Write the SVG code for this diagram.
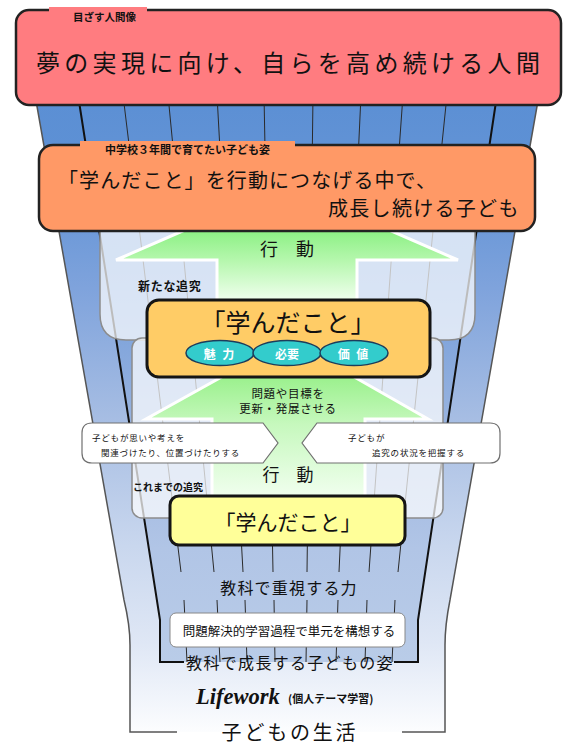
<svg xmlns="http://www.w3.org/2000/svg" width="571" height="745" viewBox="0 0 571 745">
<defs>
<linearGradient id="gOuter" gradientUnits="userSpaceOnUse" x1="0" y1="95" x2="0" y2="740">
<stop offset="0" stop-color="#5b8fd4"/><stop offset="0.12" stop-color="#5e91d5"/><stop offset="0.3" stop-color="#7fa3dc"/><stop offset="0.5" stop-color="#a6bde3"/><stop offset="0.7" stop-color="#c9d7ee"/><stop offset="0.85" stop-color="#dfe7f5"/><stop offset="0.95" stop-color="#f4f7fc"/><stop offset="1" stop-color="#ffffff"/>
</linearGradient>
<linearGradient id="gInner" gradientUnits="userSpaceOnUse" x1="0" y1="95" x2="0" y2="662">
<stop offset="0" stop-color="#5b8fd4"/><stop offset="0.3" stop-color="#6f9ad8"/><stop offset="0.6" stop-color="#9bb5e0"/><stop offset="0.8" stop-color="#b1c5e6"/><stop offset="1" stop-color="#b9cce8"/>
</linearGradient>
<linearGradient id="gArrow1" gradientUnits="userSpaceOnUse" x1="0" y1="226" x2="0" y2="302">
<stop offset="0" stop-color="#86ef7e"/><stop offset="0.45" stop-color="#b5f7ad"/><stop offset="1" stop-color="#f2fff0"/>
</linearGradient>
<linearGradient id="gArrow2" gradientUnits="userSpaceOnUse" x1="0" y1="374" x2="0" y2="499">
<stop offset="0" stop-color="#98f08a"/><stop offset="0.4" stop-color="#c6f8bd"/><stop offset="1" stop-color="#f2fff0"/>
</linearGradient>
<style>
.t{font-family:"Noto Sans CJK JP","Noto Sans CJK SC",sans-serif;fill:#111;dominant-baseline:central}
.c{text-anchor:middle}
.b{font-weight:700}
.w{fill:#ffffff}
.rib{stroke:#2a2a2a;stroke-width:1;fill:none}
.panel{fill:#ffffff;fill-opacity:0.72;stroke:#8c8c8c;stroke-width:1.5}
.arrow{stroke:#ffffff;stroke-width:3;stroke-linejoin:miter}
.bubble{fill:#ffffff;stroke:#707070;stroke-width:1.2}
.ell{fill:#33cccc;stroke:#1c3d5c;stroke-width:1.5}
.box{stroke:#151515;stroke-width:3}
</style>
</defs>
<rect width="571" height="745" fill="#ffffff"/>

<g id="funnel">
<path d="M35,95 L539,95 L450,600 Q445,625 445,645 L445,732 L130,732 L130,645 Q130,625 124,600 Z" fill="url(#gOuter)"/>
<path d="M78,95 L497,95 L418,620 L418,662 L160,662 L160,620 Z" fill="url(#gInner)"/>
<g class="rib">
<line x1="123" y1="95" x2="181" y2="572"/><line x1="168" y1="95" x2="214" y2="572"/><line x1="217" y1="95" x2="243" y2="572"/><line x1="264" y1="95" x2="273" y2="572"/><line x1="313" y1="95" x2="307" y2="572"/><line x1="361" y1="95" x2="339" y2="572"/><line x1="403" y1="95" x2="369" y2="572"/><line x1="447" y1="95" x2="398" y2="572"/>
<line x1="184" y1="600" x2="187" y2="662"/><line x1="217" y1="600" x2="220" y2="662"/><line x1="245" y1="600" x2="247" y2="662"/><line x1="274" y1="600" x2="275" y2="662"/><line x1="307" y1="600" x2="306" y2="662"/><line x1="338" y1="600" x2="336" y2="662"/><line x1="367" y1="600" x2="365" y2="662"/><line x1="395" y1="600" x2="392" y2="662"/>
</g>
<path d="M78,95 L160,620 L160,662 L184,662 M497,95 L418,620 L418,662 L394,662" fill="none" stroke="#111" stroke-width="2"/>
<path d="M35,95 L124,600 Q130,625 130,645 L130,732 L177,732 M539,95 L450,600 Q445,625 445,645 L445,732 L402,732" fill="none" stroke="#555" stroke-width="1.5"/>
</g>

<g id="panel-new">
<path class="panel" d="M100,225 L475,225 L475,314 Q475,340 449,340 L126,340 Q100,340 100,314 Z"/>
</g>
<g id="panel-past">
<rect class="panel" x="132" y="338" width="311" height="180" rx="10"/>
</g>

<g id="arrows">
<polygon class="arrow" fill="url(#gArrow1)" points="194,226 380,226 458,260 357,260 357,302 217,302 217,260 116,260"/>
<polygon class="arrow" fill="url(#gArrow2)" points="227,374 349,374 428,419 365,419 365,499 212,499 212,419 146,419"/>
</g>

<g id="goal">
<rect x="16" y="10" width="545" height="95" rx="13" fill="#ff7c80" stroke="#222" stroke-width="2.5"/>
<rect x="49" y="7" width="98" height="6" fill="#ff7c80"/>
<text class="t b" x="73" y="16" font-size="10.5">目ざす人間像</text>
<text class="t" x="36" y="61" font-size="24" letter-spacing="4.3">夢の実現に向け、自らを高め続ける人間</text>
</g>

<g id="aim">
<rect x="39" y="145" width="496" height="86" rx="14" fill="#ff9966" stroke="#222" stroke-width="2.5"/>
<rect x="80" y="141" width="215" height="7" fill="#ff9966"/>
<text class="t b" x="105" y="149" font-size="11">中学校３年間で育てたい子ども姿</text>
<text class="t" x="58" y="179" font-size="20" letter-spacing="1.1">「学んだこと」を行動につなげる中で、</text>
<text class="t" x="328" y="207" font-size="20" letter-spacing="1.3">成長し続ける子ども</text>
</g>

<g id="labels-upper">
<text class="t c" x="287" y="248" font-size="18">行　動</text>
<text class="t b" x="138" y="285" font-size="12" letter-spacing="0.7">新たな追究</text>
</g>

<g id="learned-main">
<rect class="box" x="147" y="300" width="283" height="77" rx="12" fill="#ffcc66"/>
<text class="t c" x="288" y="321" font-size="25">「学んだこと」</text>
<ellipse class="ell" cx="220" cy="353" rx="34" ry="12.5"/>
<ellipse class="ell" cx="287" cy="353" rx="34" ry="12.5"/>
<ellipse class="ell" cx="354" cy="353" rx="34" ry="12.5"/>
<text class="t c b w" x="220" y="353" font-size="12" letter-spacing="2">魅 力</text>
<text class="t c b w" x="287" y="353" font-size="12">必要</text>
<text class="t c b w" x="354" y="353" font-size="12" letter-spacing="2">価 値</text>
</g>

<g id="update">
<text class="t c" x="288" y="393" font-size="11.5" letter-spacing="0.7">問題や目標を</text>
<text class="t c" x="288" y="408" font-size="11.5" letter-spacing="0.7">更新・発展させる</text>
</g>

<g id="bubble-left">
<path class="bubble" d="M92,423 L263,423 L278,443 L263,463 L92,463 Q82,463 82,453 L82,433 Q82,423 92,423 Z"/>
<text class="t" x="92" y="437" font-size="8.5" letter-spacing="0.8">子どもが思いや考えを</text>
<text class="t" x="101" y="452" font-size="8.5" letter-spacing="0.8">関連づけたり、位置づけたりする</text>
</g>
<g id="bubble-right">
<path class="bubble" d="M317,423 L490,423 Q500,423 500,433 L500,453 Q500,463 490,463 L317,463 L302,443 Z"/>
<text class="t" x="348" y="437" font-size="8.5" letter-spacing="0.8">子どもが</text>
<text class="t" x="372" y="452" font-size="8.5" letter-spacing="0.8">追究の状況を把握する</text>
</g>

<g id="labels-lower">
<text class="t c" x="288" y="473" font-size="17">行　動</text>
<text class="t b" x="133" y="486" font-size="10">これまでの追究</text>
</g>

<g id="learned-past">
<rect class="box" x="170" y="496" width="235" height="49" rx="9" fill="#ffff99"/>
<text class="t c" x="288" y="521" font-size="21">「学んだこと」</text>
</g>

<g id="subject">
<text class="t c" x="289" y="587" font-size="16" letter-spacing="1.2">教科で重視する力</text>
<rect x="170" y="613" width="235" height="34" rx="6" fill="#fff" stroke="#888" stroke-width="1"/>
<text class="t c" x="289" y="630" font-size="12.5">問題解決的学習過程で単元を構想する</text>
<text class="t c" x="290" y="662" font-size="16" letter-spacing="1.3">教科で成長する子どもの姿</text>
</g>

<g id="life">
<text x="196" y="704" font-family="'Liberation Serif', serif" font-size="22.5" font-weight="700" font-style="italic" fill="#111">Lifework</text>
<text class="t b" x="288" y="698" font-size="11">(個人テーマ学習)</text>
<text class="t c" x="290" y="731" font-size="20" letter-spacing="2.8">子どもの生活</text>
</g>
</svg>
